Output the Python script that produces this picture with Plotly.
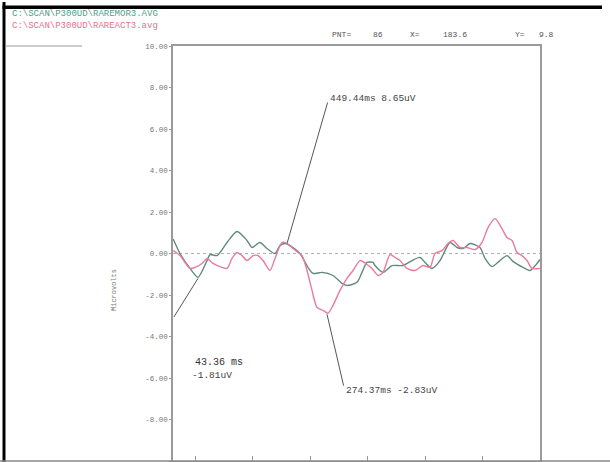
import plotly.graph_objects as go

# ---- data (time in ms, amplitude in microvolts) ----
green_t = [-38, -26.1, -8.7, 5.2, 20.9, 26.1, 38.3, 55.7, 73.0, 90.4, 99.1, 113.0, 125.2, 139.1,
           147.8, 156.5, 170.4, 182.6, 196.5, 205.2, 220.9, 240.0, 255.7, 264.3, 281.7, 290.4,
           299.1, 309.6, 313.0, 327.0, 342.6, 361.7, 377.4, 391.3, 400.0, 412.2, 426.1, 443.5,
           455.7, 466.1, 478.3, 495.7, 504.3, 516.5, 530.4, 542.6, 553.0, 570.4, 582.6, 594.8, 600.0]
green_v = [0.70, 0.0, -0.72, -1.15, -0.34, -0.05, -0.10, 0.53, 1.06, 0.63, 0.29, 0.53, 0.24, 0.0,
           0.38, 0.48, 0.29, 0.0, -0.67, -0.96, -0.91, -1.06, -1.44, -1.54, -1.39, -0.91,
           -0.43, -0.43, -0.58, -0.91, -0.58, -0.58, -0.34, -0.19, -0.43, -0.72, -0.34, 0.53,
           0.29, 0.24, 0.48, 0.29, -0.24, -0.63, -0.34, -0.10, -0.38, -0.67, -0.82, -0.48, -0.29]

pink_t = [-38, -26.1, -8.7, 0.0, 12.2, 20.9, 31.3, 47.0, 55.7, 64.3, 73.0, 81.7, 90.4, 100.9,
          109.6, 118.3, 130.4, 139.1, 151.3, 160.0, 170.4, 179.1, 186.1, 194.8, 203.5, 212.2,
          222.6, 231.3, 240.0, 252.2, 264.3, 274.8, 287.0, 299.1, 307.8, 318.3, 327.0, 339.1,
          347.8, 356.5, 368.7, 382.6, 396.5, 408.7, 417.4, 429.6, 440.0, 448.7, 460.9, 473.0,
          487.0, 499.1, 509.6, 521.7, 533.9, 542.6, 551.3, 560.0, 568.7, 577.4, 586.1, 600.0]
pink_v = [0.14, -0.10, -0.72, -0.67, -0.48, -0.24, -0.48, -0.67, -0.72, -0.24, 0.05, -0.10, -0.34, -0.10,
          -0.10, -0.34, -0.82, -0.24, 0.53, 0.48, 0.24, 0.05, -0.10, -0.82, -1.78, -2.60,
          -2.74, -2.88, -2.50, -1.78, -1.20, -0.82, -0.34, -0.53, -0.72, -1.06, -0.91, -0.05,
          -0.19, -0.34, -0.72, -0.82, -0.58, -0.67, 0.0, 0.14, 0.48, 0.63, 0.29, 0.29,
          0.19, 0.53, 1.25, 1.68, 1.20, 0.77, 0.63, 0.05, -0.10, -0.34, -0.72, -0.72]

y_ticks = [10, 8, 6, 4, 2, 0, -2, -4, -6, -8, -10]
y_tick_labels = ["10.00", "8.00", "6.00", "4.00", "2.00", "0.00", "-2.00", "-4.00", "-6.00", "-8.00", "-10.00"]
x_ticks = [0, 100, 200, 300, 400, 500, 600]

# peak labels: text, label position, peak position
peak_labels = ["449.44ms 8.65uV", "274.37ms -2.83uV"]
peak_label_xy = [(231.3, 7.35), (259.0, -6.44)]
peak_text_xy = [(231.3, 7.45), (259.0, -6.62)]
peak_point_xy = [(160.0, 0.48), (229.6, -2.93)]
lat_label = ["43.36 ms", "-1.81uV"]
lat_label_xy = [(-3.5, -5.25), (-9.0, -5.9)]
lat_line = [(-38.3, -3.13), (5.2, -1.20)]

file1 = "C:\\SCAN\\P300UD\\RAREMOR3.AVG"
file2 = "C:\\SCAN\\P300UD\\RAREACT3.avg"
cursor_info = [("PNT=", 330), ("86", 371), ("X=", 408), ("183.6", 441), ("Y=", 513), ("9.8", 537)]

GREEN = "#5f8a7a"
PINK = "#ec7a9c"
AX = "#9a9a9a"
MONO = "Liberation Mono, DejaVu Sans Mono, monospace"

fig = go.Figure()
fig.add_trace(go.Scatter(x=green_t, y=green_v, mode="lines",
                         line=dict(color=GREEN, width=1.4, shape="spline", smoothing=0.7),
                         name="RAREMOR3", showlegend=False, hoverinfo="skip"))
fig.add_trace(go.Scatter(x=pink_t, y=pink_v, mode="lines",
                         line=dict(color=PINK, width=1.4, shape="spline", smoothing=0.7),
                         name="RAREACT3", showlegend=False, hoverinfo="skip"))

fig.add_hline(y=0, line=dict(color="#b0b0b0", width=1, dash="dot"), layer="below")

# leader lines + labels
for (lx, ly), (px, py) in zip(peak_label_xy, peak_point_xy):
    fig.add_annotation(x=px, y=py, ax=lx, ay=ly, axref="x", ayref="y", xref="x", yref="y",
                       showarrow=True, arrowhead=0, arrowwidth=1, arrowcolor="#555", text="")
for txt, (tx, ty) in zip(peak_labels, peak_text_xy):
    fig.add_annotation(x=tx, y=ty, text=txt, showarrow=False, xanchor="left",
                       font=dict(family=MONO, size=9.5, color="#444"))
fig.add_annotation(x=lat_line[1][0], y=lat_line[1][1], ax=lat_line[0][0], ay=lat_line[0][1],
                   axref="x", ayref="y", xref="x", yref="y", showarrow=True, arrowhead=0,
                   arrowwidth=1, arrowcolor="#555", text="")
fig.add_annotation(x=lat_label_xy[0][0], y=lat_label_xy[0][1], text=lat_label[0], showarrow=False,
                   xanchor="left", font=dict(family=MONO, size=10, color="#333"))
fig.add_annotation(x=lat_label_xy[1][0], y=lat_label_xy[1][1], text=lat_label[1], showarrow=False,
                   xanchor="left", font=dict(family=MONO, size=9.5, color="#444"))


def px2paper_x(px):
    return (px - 173) / 367.0


def px2paper_y(py):
    return (461 - py) / 415.0


# header texts
fig.add_annotation(xref="paper", yref="paper", x=px2paper_x(10), y=px2paper_y(20),
                   text=(f"<span style='color:#4aa08a'>{file1}</span><br>"
                         f"<span style='color:#e8708f'>{file2}</span>"),
                   showarrow=False, xanchor="left", yanchor="middle", align="left",
                   font=dict(family=MONO, size=9, color="#4aa08a"))
for txt, xp in cursor_info:
    fig.add_annotation(xref="paper", yref="paper", x=px2paper_x(xp), y=px2paper_y(34), text=txt,
                       showarrow=False, xanchor="left", yanchor="middle",
                       font=dict(family=MONO, size=8, color="#555"))
fig.add_annotation(xref="paper", yref="paper", x=px2paper_x(108), y=px2paper_y(290),
                   text="Microvolts", textangle=-90, showarrow=False,
                   font=dict(family=MONO, size=7, color="#777"))

# scan frame
fig.add_shape(type="rect", xref="paper", yref="paper", x0=px2paper_x(2.5), x1=px2paper_x(5.5),
              y0=px2paper_y(2), y1=px2paper_y(462), line=dict(width=0), fillcolor="#000")
fig.add_shape(type="rect", xref="paper", yref="paper", x0=px2paper_x(2.5), x1=px2paper_x(602),
              y0=px2paper_y(5.5), y1=px2paper_y(9), line=dict(width=0), fillcolor="#000")
fig.add_shape(type="line", xref="paper", yref="paper", x0=px2paper_x(0), x1=px2paper_x(610),
              y0=px2paper_y(461), y1=px2paper_y(461), line=dict(color="#888", width=1.5))
fig.add_shape(type="line", xref="paper", yref="paper", x0=px2paper_x(5), x1=px2paper_x(82),
              y0=px2paper_y(46), y1=px2paper_y(46), line=dict(color="#999", width=1))

fig.update_xaxes(range=[-38.3, 600], tickvals=x_ticks, showticklabels=False, ticks="inside",
                 ticklen=5, tickcolor=AX, showgrid=False, zeroline=False,
                 showline=True, linecolor=AX, linewidth=1.5, mirror=True)
fig.update_yaxes(range=[-10, 10], tickvals=y_ticks, ticktext=y_tick_labels, ticks="outside",
                 ticklen=2, tickcolor=AX, showgrid=False, zeroline=False,
                 showline=True, linecolor=AX, linewidth=1.5, mirror=True,
                 tickfont=dict(family=MONO, size=7.5, color="#777"))

fig.update_layout(width=610, height=462, margin=dict(l=173, r=70, t=46, b=1),
                  paper_bgcolor="white", plot_bgcolor="white")

css_js = (
    "document.body.style.margin='0';"
    "document.body.style.overflow='hidden';"
    "var st=document.createElement('style');"
    "st.textContent='*{user-select:none !important;-webkit-user-select:none !important;}"
    "::selection{background:transparent !important;color:inherit !important;}';"
    "document.head.appendChild(st);"
    "if(window.getSelection){window.getSelection().removeAllRanges();}"
)
fig.write_html("out.html", config={"displayModeBar": False}, post_script=css_js)
